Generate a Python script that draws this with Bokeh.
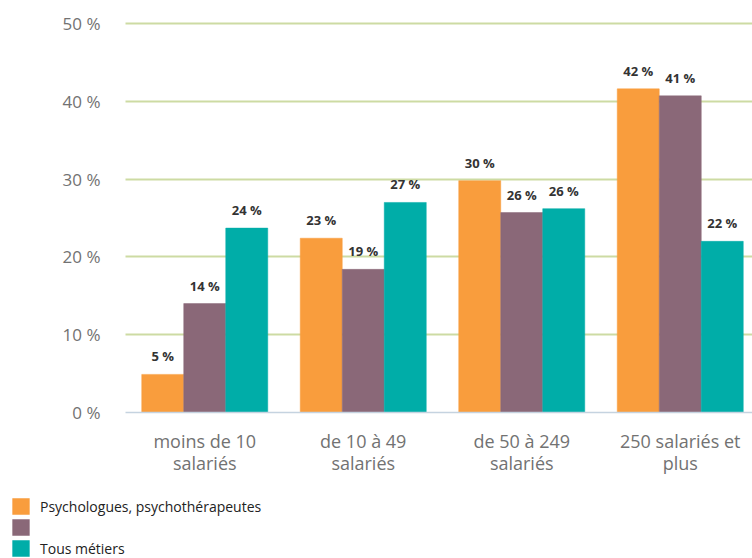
from bokeh.plotting import figure
from bokeh.models import ColumnDataSource, Range1d, FixedTicker, Legend, LegendItem, LabelSet, Grid
from bokeh.transform import dodge
from bokeh.core.properties import value
from bokeh.embed import file_html
from bokeh.resources import INLINE

categories = ["moins de 10\nsalariés", "de 10 à 49\nsalariés", "de 50 à 249\nsalariés", "250 salariés et\nplus"]
psy = [4.9, 22.4, 29.8, 41.6]
psy_labels = ["5 %", "23 %", "30 %", "42 %"]
other = [14.0, 18.4, 25.7, 40.7]
other_labels = ["14 %", "19 %", "26 %", "41 %"]
tous = [23.7, 27.0, 26.2, 22.0]
tous_labels = ["24 %", "27 %", "26 %", "22 %"]
y_ticks = [0, 10, 20, 30, 40, 50]
y_tick_labels = ["0 %", "10 %", "20 %", "30 %", "40 %", "50 %"]
series_names = ["Psychologues, psychothérapeutes", "", "Tous métiers"]
colors = ["#F99D3D", "#8A6878", "#00ADA8"]

BG = "#ECEDF0"
FONT = "Open Sans"

# layout: the frame covers the whole canvas; the plotting area starts 125px from the
# left and the zero line sits 412px from the top
W, H = 752, 558
PX_CAT = 158.5   # pixels per category
PX_PCT = 7.78    # pixels per percentage point
X0 = -125 / PX_CAT
X1 = (W - 125) / PX_CAT
Y0 = -(H - 412) / PX_PCT
Y1 = 412 / PX_PCT

xs = [i + 0.5 for i in range(len(categories))]
line1 = [c.split("\n")[0] for c in categories]
line2 = [c.split("\n")[1] for c in categories]
src = ColumnDataSource(dict(x=xs, l1=line1, l2=line2, psy=psy, other=other, tous=tous,
                            psy_l=psy_labels, other_l=other_labels, tous_l=tous_labels))
ysrc = ColumnDataSource(dict(y=y_ticks, t=y_tick_labels))

p = figure(width=W, height=H, output_backend="svg", toolbar_location=None,
           x_range=Range1d(X0, X1), y_range=Range1d(Y0, Y1),
           x_axis_type=None, y_axis_type=None, min_border=0)
p.background_fill_color = None
p.border_fill_color = BG
p.outline_line_color = None

# grid lines (limited to the plotting area) and base line
grid = Grid(dimension=1, ticker=FixedTicker(ticks=y_ticks[1:]), cross_bounds=(0, X1),
            grid_line_color="#CDDBA3", grid_line_width=2)
base = Grid(dimension=1, ticker=FixedTicker(ticks=y_ticks[:1]), cross_bounds=(0, X1),
            grid_line_color="#C5D3E0", grid_line_width=1.5, level="overlay")
p.add_layout(grid)
p.add_layout(base)

bw = 0.265
offsets = [-bw, 0.0, bw]
cols = ["psy", "other", "tous"]
renderers = []
for col, off, c in zip(cols, offsets, colors):
    r = p.vbar(x=dodge("x", off), top=col, width=bw, bottom=0, source=src,
               fill_color=c, line_color=c, line_width=0.5)
    renderers.append(r)
    lab = LabelSet(x=dodge("x", off), y=col, text=col + "_l", source=src,
                   text_align="center", text_baseline="middle", y_offset=18,
                   text_font=value(FONT), text_font_size="13px", text_font_style="bold",
                   text_color="#333333")
    p.add_layout(lab)

# y tick labels
ylab = LabelSet(x=value(0), y="y", text="t", source=ysrc, x_offset=-25,
                text_align="right", text_baseline="middle",
                text_font=value(FONT), text_font_size="17px", text_color="#727272")
p.add_layout(ylab)

# category labels (two lines)
for col, dy in (("l1", -28), ("l2", -50)):
    xlab = LabelSet(x="x", y=value(0), text=col, source=src, y_offset=dy,
                    text_align="center", text_baseline="middle",
                    text_font=value(FONT), text_font_size="18px", text_color="#727272")
    p.add_layout(xlab)

items = [LegendItem(label=n, renderers=[r]) for n, r in zip(series_names, renderers)]
legend = Legend(items=items, location=(10, 0), orientation="vertical",
                glyph_width=21, glyph_height=20, spacing=1, padding=0, margin=0,
                label_standoff=9, label_text_font=FONT, label_text_font_size="14px",
                label_text_color="#222222", background_fill_alpha=0,
                border_line_color=None, label_height=20)
p.add_layout(legend, "center")

open("out.html", "w").write(file_html(p, INLINE))
